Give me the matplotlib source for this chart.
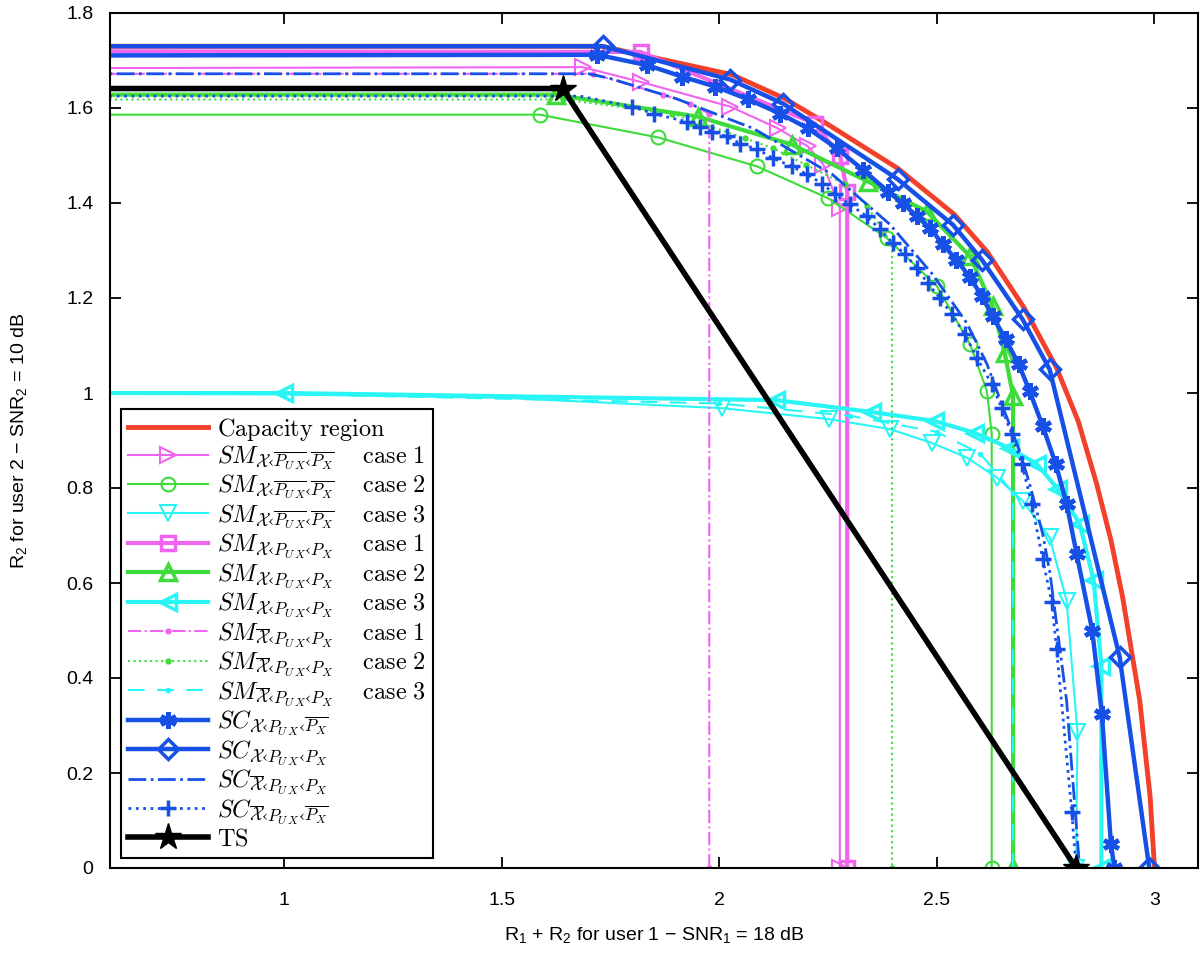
import numpy as np
import matplotlib
matplotlib.use("Agg")
import matplotlib.pyplot as plt

plt.rcParams['mathtext.fontset'] = 'cm'
plt.rcParams['mathtext.rm'] = 'Liberation Sans'

# ---- data ----
cap_x = [0.0, 1.73, 2.03, 2.15, 2.24, 2.41, 2.54, 2.615, 2.70, 2.775, 2.825, 2.867, 2.90, 2.927,
         2.966, 2.99, 3.0]
cap_y = [1.73, 1.73, 1.67, 1.62, 1.571, 1.473, 1.376, 1.298, 1.18, 1.053, 0.94, 0.809, 0.69, 0.569,
         0.353, 0.15, 0.0]

smbb1_x = [0.0, 1.686, 1.819, 2.025, 2.135, 2.204, 2.239, 2.277, 2.277]
smbb1_y = [1.683, 1.686, 1.655, 1.603, 1.557, 1.519, 1.481, 1.389, 0.0]
smbb2_x = [0.0, 1.587, 1.86, 2.087, 2.25, 2.385, 2.5, 2.576, 2.615, 2.626, 2.626]
smbb2_y = [1.586, 1.586, 1.538, 1.477, 1.41, 1.326, 1.225, 1.103, 1.004, 0.914, 0.0]
smbb3_x = [0.0, 1.0, 1.5, 2.007, 2.252, 2.392, 2.488, 2.569, 2.638, 2.697, 2.759, 2.798, 2.823, 2.82]
smbb3_y = [1.0, 0.997, 0.99, 0.968, 0.945, 0.924, 0.895, 0.864, 0.822, 0.773, 0.696, 0.563, 0.286, 0.0]

sm1_x = [0.0, 1.819, 2.22, 2.278, 2.294, 2.294]
sm1_y = [1.72, 1.718, 1.567, 1.498, 1.424, 0.0]
sm2_x = [0.0, 1.624, 1.95, 2.167, 2.342, 2.477, 2.576, 2.628, 2.656, 2.675, 2.675]
sm2_y = [1.628, 1.628, 1.582, 1.523, 1.445, 1.382, 1.288, 1.183, 1.084, 0.994, 0.0]
sm3_x = [0.0, 1.0, 2.13, 2.35, 2.495, 2.587, 2.667, 2.729, 2.778, 2.828, 2.86, 2.878, 2.878]
sm3_y = [1.0, 1.0, 0.985, 0.96, 0.941, 0.916, 0.884, 0.851, 0.798, 0.725, 0.607, 0.426, 0.0]

smxb1_x = [0.0, 1.71, 1.871, 1.933, 1.977, 1.977]
smxb1_y = [1.672, 1.672, 1.628, 1.609, 1.588, 0.0]
smxb2_x = [0.0, 1.64, 1.892, 2.06, 2.124, 2.2, 2.29, 2.34, 2.397, 2.397]
smxb2_y = [1.618, 1.618, 1.588, 1.536, 1.515, 1.48, 1.439, 1.393, 1.313, 0.0]
smxb3_x = [0.0, 1.0, 2.0, 2.3, 2.5, 2.6, 2.675, 2.675]
smxb3_y = [1.0, 0.998, 0.978, 0.952, 0.918, 0.872, 0.79, 0.0]

scb_x = [0.0, 1.72, 1.835, 1.915, 1.991, 2.067, 2.14, 2.204, 2.27, 2.33, 2.388, 2.422, 2.454,
         2.484, 2.514, 2.545, 2.576, 2.603, 2.628, 2.658, 2.688, 2.713, 2.743, 2.773, 2.798,
         2.821, 2.857, 2.879, 2.9, 2.908]
scb_y = [1.71, 1.712, 1.69, 1.666, 1.645, 1.618, 1.588, 1.557, 1.515, 1.47, 1.424, 1.399, 1.372,
         1.347, 1.313, 1.28, 1.244, 1.204, 1.162, 1.113, 1.061, 1.004, 0.931, 0.851, 0.767,
         0.662, 0.5, 0.325, 0.05, 0.0]

sc_x = [0.0, 1.732, 2.025, 2.147, 2.41, 2.537, 2.603, 2.697, 2.759, 2.92, 2.988]
sc_y = [1.73, 1.73, 1.66, 1.609, 1.45, 1.354, 1.281, 1.155, 1.05, 0.444, 0.0]

scx_x = [0.0, 1.70, 1.75, 1.9, 2.078, 2.26, 2.392, 2.49, 2.569, 2.615, 2.649, 2.69, 2.713,
         2.743, 2.76, 2.798, 2.828]
scx_y = [1.672, 1.672, 1.662, 1.62, 1.557, 1.46, 1.355, 1.25, 1.147, 1.061, 0.977, 0.878, 0.809,
         0.704, 0.62, 0.353, 0.0]

scxb_x = [0.0, 1.68, 1.80, 1.849, 1.926, 1.956, 1.984, 2.018, 2.048, 2.087, 2.124, 2.167, 2.202,
          2.236, 2.266, 2.30, 2.339, 2.369, 2.399, 2.427, 2.454, 2.479, 2.507, 2.534, 2.564,
          2.592, 2.626, 2.649, 2.672, 2.695, 2.718, 2.743, 2.764, 2.775, 2.81, 2.82]
scxb_y = [1.625, 1.625, 1.603, 1.588, 1.571, 1.561, 1.55, 1.54, 1.525, 1.513, 1.494, 1.477, 1.46,
          1.441, 1.418, 1.397, 1.372, 1.345, 1.315, 1.292, 1.263, 1.231, 1.2, 1.166, 1.124,
          1.074, 1.019, 0.968, 0.914, 0.851, 0.767, 0.651, 0.559, 0.462, 0.118, 0.0]

ts_x = [0.0, 1.64, 2.82]
ts_y = [1.641, 1.641, 0.0]

# ---- colours ----
RED = '#f3402a'
MAG = '#f064f0'
GRN = '#3ddc3a'
CYN = '#2af5f5'
BLU = '#1650e6'

sub_bb = r'\mathcal{X}‹\overline{P_{U\,X}}‹\overline{P_X}'
sub_pp = r'\mathcal{X}‹P_{U\,X}‹P_X'
sub_xb = r'\overline{\mathcal{X}}‹P_{U\,X}‹P_X'
sub_sc1 = r'\mathcal{X}‹P_{U\,X}‹\overline{P_X}'
sub_sc4 = r'\overline{\mathcal{X}}‹P_{U\,X}‹\overline{P_X}'

def sm(sub, case):
    return r'$SM_{' + sub + r'}\quad\ \mathrm{case\ ' + str(case) + '}$'

def skip_first(xs):
    return list(range(1, len(xs)))

fig = plt.figure(figsize=(12, 9.61), dpi=100)
ax = fig.add_axes([110 / 1200, 93 / 961, 1088 / 1200, 855 / 961])

ax.plot(cap_x, cap_y, color=RED, lw=3.5, label=r'$\mathrm{Capacity\ region}$')

ax.plot(smbb1_x, smbb1_y, color=MAG, lw=1.5, marker='>', ms=11, mfc='none', mew=1.5,
        markevery=skip_first(smbb1_x), label=sm(sub_bb, 1))
ax.plot(smbb2_x, smbb2_y, color=GRN, lw=1.5, marker='o', ms=10, mfc='none', mew=1.5,
        markevery=skip_first(smbb2_x), label=sm(sub_bb, 2))
ax.plot(smbb3_x, smbb3_y, color=CYN, lw=1.5, marker='v', ms=11, mfc='none', mew=1.5,
        markevery=list(range(3, len(smbb3_x))), label=sm(sub_bb, 3))

ax.plot(sm1_x, sm1_y, color=MAG, lw=3, marker='s', ms=10, mfc='none', mew=2.5,
        markevery=skip_first(sm1_x), label=sm(sub_pp, 1))
ax.plot(sm2_x, sm2_y, color=GRN, lw=3, marker='^', ms=12, mfc='none', mew=2.5,
        markevery=skip_first(sm2_x), label=sm(sub_pp, 2))
ax.plot(sm3_x, sm3_y, color=CYN, lw=3, marker='<', ms=12, mfc='none', mew=2.5,
        markevery=skip_first(sm3_x), label=sm(sub_pp, 3))

ax.plot(smxb1_x, smxb1_y, color=MAG, lw=1.5, ls='-.', marker='.', ms=7,
        label=sm(sub_xb, 1))
ax.plot(smxb2_x, smxb2_y, color=GRN, lw=1.5, ls=':', marker='.', ms=7,
        label=sm(sub_xb, 2))
ax.plot(smxb3_x, smxb3_y, color=CYN, lw=1.5, ls=(0, (8, 6)), marker='.', ms=6,
        label=sm(sub_xb, 3))

ax.plot(scb_x, scb_y, color=BLU, lw=3.2, marker=(6, 2, 0), ms=12, mew=3.2,
        markevery=skip_first(scb_x), label=r'$SC_{' + sub_sc1 + '}$')
ax.plot(sc_x, sc_y, color=BLU, lw=3.2, marker='D', ms=10, mfc='none', mew=2.5,
        markevery=skip_first(sc_x), label=r'$SC_{' + sub_pp + '}$')
ax.plot(scx_x, scx_y, color=BLU, lw=2, ls='-.', label=r'$SC_{' + sub_xb + '}$')
ax.plot(scxb_x, scxb_y, color=BLU, lw=2, ls=':', marker='+', ms=12, mew=2.5,
        markevery=list(range(2, len(scxb_x))), label=r'$SC_{' + sub_sc4 + '}$')

ax.plot(ts_x, ts_y, color='black', lw=4, marker='*', ms=20,
        markevery=[1, 2], label=r'$\mathrm{TS}$')

ax.set_xlim(0.6, 3.1)
ax.set_ylim(0, 1.8)
ax.set_xticks([1, 1.5, 2, 2.5, 3])
ax.set_xticklabels(['1', '1.5', '2', '2.5', '3'])
ax.set_yticks(np.arange(0, 1.81, 0.2))
ax.set_yticklabels(['0', '0.2', '0.4', '0.6', '0.8', '1', '1.2', '1.4', '1.6', '1.8'])
ax.tick_params(direction='in', length=8, width=1.3, top=True, right=True,
               labelsize=14, pad=12)
ax.tick_params(axis='x', pad=17)
for lab in ax.get_xticklabels() + ax.get_yticklabels():
    lab.set_family('Liberation Sans')
for s in ax.spines.values():
    s.set_linewidth(1.5)

ax.set_xlabel('R$_1$ + R$_2$ for user 1 − SNR$_1$ = 18 dB', fontsize=14,
              family='Liberation Sans', math_fontfamily='custom', labelpad=12)
ax.set_ylabel('R$_2$ for user 2 − SNR$_2$ = 10 dB', fontsize=14,
              family='Liberation Sans', math_fontfamily='custom', labelpad=26)

leg = ax.legend(loc='lower left', bbox_to_anchor=(0.0101, 0.0117), borderaxespad=0,
                fontsize=17.5, handlelength=3.3, handletextpad=0.35, labelspacing=0.04,
                fancybox=False, framealpha=1, edgecolor='black', borderpad=0.3)
leg.get_frame().set_linewidth(1.5)

fig.savefig('out.png', dpi=100)
